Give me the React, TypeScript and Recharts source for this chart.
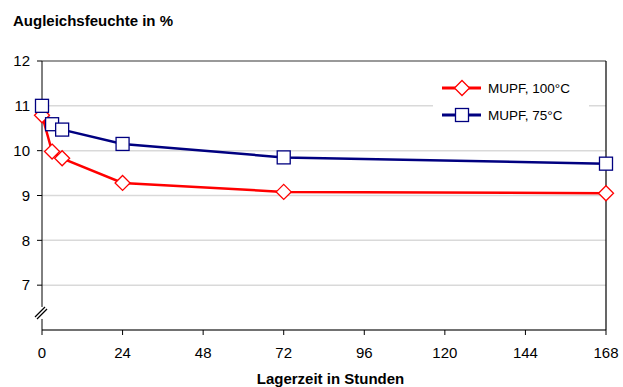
import React from 'react'
import {
  LineChart,
  Line,
  XAxis,
  YAxis,
  CartesianGrid,
  ReferenceLine,
  ReferenceDot,
} from 'recharts'

const hours = [0, 3, 6, 24, 72, 168]
const mupf100 = [10.79, 9.98, 9.83, 9.28, 9.08, 9.05]
const mupf75 = [11.0, 10.59, 10.47, 10.15, 9.85, 9.71]
const xTicks = [0, 24, 48, 72, 96, 120, 144, 168]
const yTicks = [7, 8, 9, 10, 11, 12]

const data = hours.map((h, i) => ({ h, a: mupf100[i], b: mupf75[i] }))

const RED = '#ff0000'
const NAVY = '#000080'
const FONT = '"Liberation Sans", Arial, sans-serif'

const Diamond = (props: any) => {
  const { cx, cy } = props
  if (cx == null || cy == null) return null
  const r = 7.5
  return (
    <path
      d={`M${cx},${cy - r}L${cx + r},${cy}L${cx},${cy + r}L${cx - r},${cy}Z`}
      fill="#fff"
      stroke={RED}
      strokeWidth={1.3}
    />
  )
}

const Square = (props: any) => {
  const { cx, cy } = props
  if (cx == null || cy == null) return null
  const s = 13
  return (
    <rect x={cx - s / 2} y={cy - s / 2} width={s} height={s} fill="#fff" stroke={NAVY} strokeWidth={1.3} />
  )
}

// axis break mark on the left axis
const BreakMark = (props: any) => {
  const { cx, cy } = props
  if (cx == null || cy == null) return null
  return (
    <g>
      <rect x={cx - 3} y={cy - 6} width={6} height={12} fill="#fff" />
      <line x1={cx - 7} y1={cy + 4} x2={cx + 3} y2={cy - 6} stroke="#000" strokeWidth={1.2} />
      <line x1={cx - 5} y1={cy + 6} x2={cx + 5} y2={cy - 4} stroke="#000" strokeWidth={1.2} />
    </g>
  )
}

const LegendBox = () => (
  <svg width={156} height={56} style={{ position: 'absolute', left: 433, top: 74 }}>
    <rect x={0} y={0} width={156} height={56} fill="#fff" />
    <line x1={9} y1={14} x2={48} y2={14} stroke={RED} strokeWidth={3} />
    <Diamond cx={29} cy={14} />
    <text x={55} y={19} fontSize={13.5} fontFamily={FONT} fill="#000">MUPF, 100°C</text>
    <line x1={9} y1={41} x2={48} y2={41} stroke={NAVY} strokeWidth={3} />
    <Square cx={29} cy={41} />
    <text x={55} y={46} fontSize={13.5} fontFamily={FONT} fill="#000">MUPF, 75°C</text>
  </svg>
)

export default function App() {
  return (
    <div style={{ position: 'absolute', left: 0, top: 0, width: 623, height: 387, background: '#fff', overflow: 'hidden' }}>
      <LineChart
        width={623}
        height={387}
        data={data}
        margin={{ top: 61, right: 17, left: 12, bottom: 27 }}
      >
        <CartesianGrid horizontal vertical={false} stroke="#d9d9d9" strokeWidth={1.5} />
        <XAxis
          dataKey="h"
          type="number"
          domain={[0, 168]}
          ticks={xTicks}
          height={30}
          axisLine={{ stroke: '#000', strokeWidth: 1 }}
          tickLine={{ stroke: '#000' }}
          tickSize={5}
          tick={{ fill: '#000', fontSize: 15, fontFamily: FONT }}
          tickMargin={12}
        />
        <YAxis
          type="number"
          domain={[6, 12]}
          ticks={yTicks}
          width={30}
          axisLine={{ stroke: '#000', strokeWidth: 1 }}
          tickLine={{ stroke: '#000' }}
          tickSize={5}
          tick={{ fill: '#000', fontSize: 15, fontFamily: FONT }}
          tickMargin={7}
        />
        <ReferenceLine y={12} stroke="#808080" strokeWidth={1.5} />
        <ReferenceLine x={168} stroke="#000" strokeWidth={1.2} />
        <Line
          type="linear"
          dataKey="a"
          stroke={RED}
          strokeWidth={2.5}
          dot={<Diamond />}
          isAnimationActive={false}
        />
        <Line
          type="linear"
          dataKey="b"
          stroke={NAVY}
          strokeWidth={2.5}
          dot={<Square />}
          isAnimationActive={false}
        />
        <ReferenceDot x={0} y={6.38} r={0} shape={<BreakMark />} ifOverflow="visible" />
      </LineChart>
      <LegendBox />
      <div
        style={{
          position: 'absolute',
          left: 13,
          top: 12,
          fontFamily: FONT,
          fontWeight: 'bold',
          fontSize: 15,
          whiteSpace: 'nowrap',
        }}
      >
        Augleichsfeuchte in %
      </div>
      <div
        style={{
          position: 'absolute',
          left: 0,
          top: 372,
          width: 661,
          height: 14,
          lineHeight: '14px',
          textAlign: 'center',
          fontFamily: FONT,
          fontWeight: 'bold',
          fontSize: 15,
          whiteSpace: 'nowrap',
        }}
      >
        Lagerzeit in Stunden
      </div>
    </div>
  )
}
